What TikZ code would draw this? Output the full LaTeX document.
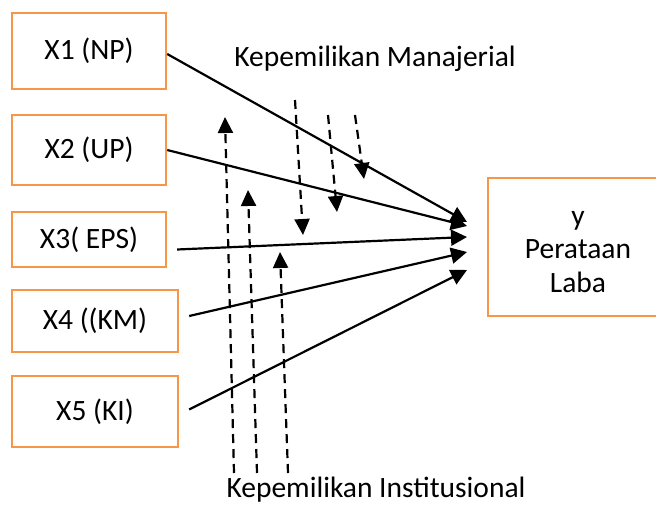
\documentclass[tikz,border=0pt]{standalone}
\usepackage{fontspec}
\setmainfont{Carlito}
\usepackage{xcolor}
\usetikzlibrary{arrows.meta}
\definecolor{boxorange}{RGB}{247,150,70}

\begin{document}
\begin{tikzpicture}[x=1pt,y=1pt,yscale=-1,xscale=1,
  varbox/.style={draw=boxorange,line width=2.4pt,inner sep=0pt,font=\fontsize{29.5}{33.5}\selectfont},
  lbl/.style={inner sep=0pt,font=\fontsize{29.5}{33.5}\selectfont},
  link/.style={line width=2.2pt,-{Triangle[length=16pt,width=16pt]}},
  moder/.style={line width=2.2pt,dash pattern={on 9pt off 6pt},-{Triangle[length=16pt,width=15pt]}}]
\useasboundingbox (0,0) rectangle (656,505);

%Variable boxes
\node [varbox,minimum width=154,minimum height=76] (x1) at (89,51) {X1 (NP)};
\node [varbox,minimum width=154,minimum height=70] (x2) at (89,150) {X2 (UP)};
\node [varbox,minimum width=154,minimum height=55] (x3) at (89,239.5) {X3( EPS)};
\node [varbox,minimum width=166,minimum height=62] (x4) at (95,321) {X4 ((KM)};
\node [varbox,minimum width=166,minimum height=71] (x5) at (95,411.5) {X5 (KI)};
\node [varbox,minimum width=172,minimum height=138] (y) at (574,247) {};
\node [lbl,align=center] (ytxt) at (578,252) {y\\Perataan\\Laba};

% Moderator labels
\node [lbl,anchor=base] (km) at (375,67) {Kepemilikan Manajerial};
\node [lbl,anchor=base] (ki) at (376,497) {Kepemilikan Institusional};

% arrow heads near y
\coordinate (t1) at (467,222);
\coordinate (t2) at (467,226);
\coordinate (t3) at (467,237);
\coordinate (t4) at (467,252);
\coordinate (t5) at (467,270);

% Straight arrows
\draw [link] ([yshift=3]x1.east) -- (t1);
\draw [link] (x2.east) -- (t2);
\draw [link] ([xshift=10,yshift=10]x3.east) -- (t3);
\draw [link] ([xshift=10,yshift=-5]x4.east) -- (t4);
\draw [link] ([xshift=10,yshift=-2]x5.east) -- (t5);

% Dashed arrows (Manajerial)
\coordinate (m1) at (295,100);
\coordinate (m1e) at (303,235);
\coordinate (m2) at (328,115);
\coordinate (m2e) at (337,212);
\coordinate (m3) at (355,115);
\coordinate (m3e) at (364,179);
\draw [moder] (m1) -- (m1e);
\draw [moder] (m2) -- (m2e);
\draw [moder] (m3) -- (m3e);

% Dashed arrows (Institusional)
\coordinate (i1) at (234,473);
\coordinate (i1e) at (225,117);
\coordinate (i2) at (257,473);
\coordinate (i2e) at (248,190);
\coordinate (i3) at (288,473);
\coordinate (i3e) at (280,252);
\draw [moder] (i1) -- (i1e);
\draw [moder] (i2) -- (i2e);
\draw [moder] (i3) -- (i3e);

\end{tikzpicture}
\end{document}
